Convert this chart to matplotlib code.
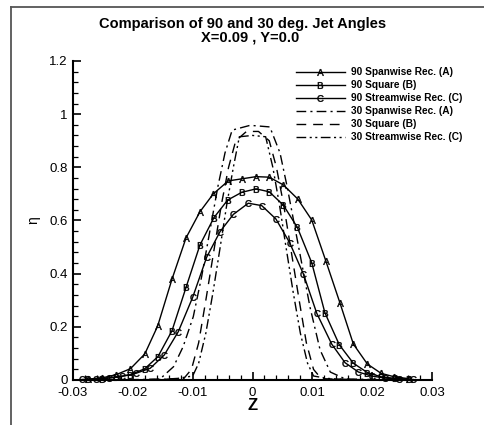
import matplotlib
matplotlib.use("Agg")
import matplotlib.pyplot as plt
from matplotlib.lines import Line2D
from matplotlib.ticker import MultipleLocator, FuncFormatter

plt.rcParams['font.family'] = ['Liberation Sans', 'DejaVu Sans']
plt.rcParams['mathtext.fontset'] = 'custom'
plt.rcParams['mathtext.rm'] = 'Liberation Sans'

# 90 deg, Spanwise Rec. (A)
z_90a = [-0.0275, -0.0251, -0.0228, -0.0204, -0.0180, -0.01585, -0.01346, -0.0111, -0.00878,
         -0.00656, -0.00405, -0.0017, 0.00059, 0.0028, 0.00515, 0.00756, 0.0099, 0.01224,
         0.01463, 0.01686, 0.0192, 0.0215, 0.0237, 0.0261]
eta_90a = [0.003, 0.008, 0.02, 0.0425, 0.098, 0.203, 0.379, 0.535, 0.633, 0.700, 0.749, 0.757,
           0.765, 0.763, 0.734, 0.681, 0.602, 0.449, 0.289, 0.135, 0.060, 0.025, 0.012, 0.005]
# 90 deg, Square (B)
z_90b = [-0.0275, -0.0251, -0.0228, -0.0204, -0.0180, -0.0158, -0.01346, -0.0111, -0.00878,
         -0.00644, -0.00415, -0.0018, 0.00059, 0.0028, 0.00515, 0.0075, 0.0099, 0.0121,
         0.01452, 0.01686, 0.0192, 0.0215, 0.0238, 0.0261]
eta_90b = [0.002, 0.005, 0.010, 0.020, 0.0425, 0.088, 0.185, 0.349, 0.508, 0.611, 0.677, 0.706,
           0.719, 0.708, 0.658, 0.574, 0.441, 0.253, 0.132, 0.063, 0.028, 0.012, 0.006, 0.003]
# 90 deg, Streamwise Rec. (C)
z_90c = [-0.0285, -0.0262, -0.0240, -0.0218, -0.0195, -0.0171, -0.01475, -0.0124, -0.0100,
         -0.00766, -0.00543, -0.0032, -0.0007, 0.00154, 0.0039, 0.0062, 0.0085, 0.01074,
         0.01324, 0.01547, 0.0177, 0.0199, 0.0222, 0.0245, 0.0268]
eta_90c = [0.002, 0.004, 0.008, 0.014, 0.025, 0.044, 0.094, 0.182, 0.311, 0.462, 0.558, 0.623,
           0.665, 0.656, 0.606, 0.517, 0.399, 0.251, 0.135, 0.065, 0.030, 0.015, 0.007, 0.004, 0.002]
# 30 deg, Spanwise Rec. (A)
z_30a = [-0.024, -0.0155, -0.0132, -0.0116, -0.0099, -0.0085, -0.0058, -0.0046, -0.0034,
         -0.0004, 0.0029, 0.0046, 0.0058, 0.0079, 0.0096, 0.0113, 0.013, 0.0155, 0.024]
eta_30a = [0.0, 0.003, 0.05, 0.125, 0.238, 0.389, 0.726, 0.854, 0.94, 0.958, 0.952, 0.854,
           0.726, 0.478, 0.275, 0.113, 0.03, 0.004, 0.0]
# 30 deg, Square (B)
z_30b = [-0.02, -0.0115, -0.0102, -0.009, -0.0078, -0.0065, -0.0052, -0.004, -0.0028, -0.001,
         0.001, 0.0028, 0.004, 0.0052, 0.0065, 0.0078, 0.009, 0.0102, 0.0115, 0.02]
eta_30b = [0.0, 0.005, 0.04, 0.14, 0.30, 0.48, 0.66, 0.80, 0.90, 0.935, 0.935, 0.90, 0.80,
           0.66, 0.48, 0.30, 0.14, 0.04, 0.005, 0.0]
# 30 deg, Streamwise Rec. (C)
z_30c = [-0.022, -0.0155, -0.0125, -0.0100, -0.0090, -0.0078, -0.0066, -0.0054, -0.0043,
         -0.0032, -0.0022, 0.0, 0.0022, 0.0034, 0.0045, 0.0056, 0.0068, 0.0080, 0.0092, 0.0102,
         0.0125, 0.0155, 0.022]
eta_30c = [0.0, 0.002, 0.006, 0.015, 0.063, 0.176, 0.33, 0.50, 0.66, 0.80, 0.915, 0.92, 0.915,
           0.80, 0.66, 0.50, 0.33, 0.176, 0.063, 0.015, 0.006, 0.002, 0.0]

labels = ["90 Spanwise Rec. (A)", "90 Square (B)", "90 Streamwise Rec. (C)",
          "30 Spanwise Rec. (A)", "30 Square (B)", "30 Streamwise Rec. (C)"]

W, H = 485, 425
fig = plt.figure(figsize=(W / 100, H / 100), dpi=100)
ax = fig.add_axes([73 / W, 1 - 380 / H, (432 - 73) / W, (380 - 61) / H])

lw = 1.0
dashdot = (0, (7, 3, 1.5, 3))
dashed = (0, (7, 5))
dashdotdot = (0, (7, 2.5, 1.5, 2.5, 1.5, 2.5))
ms = 4.8

series = [
    (z_90a, eta_90a, '-', r'$\mathrm{A}$'),
    (z_90b, eta_90b, '-', r'$\mathrm{B}$'),
    (z_90c, eta_90c, '-', r'$\mathrm{C}$'),
    (z_30a, eta_30a, dashdot, None),
    (z_30b, eta_30b, dashed, None),
    (z_30c, eta_30c, dashdotdot, None),
]
for z, e, ls, mk in series:
    ax.plot(z, e, color='black', linestyle=ls, linewidth=lw, marker=mk,
            markersize=ms, markeredgewidth=0.3, clip_on=False)

ax.set_xlim(-0.03, 0.03)
ax.set_ylim(0, 1.2)
ax.xaxis.set_major_locator(MultipleLocator(0.01))
ax.xaxis.set_minor_locator(MultipleLocator(0.002))
ax.yaxis.set_major_locator(MultipleLocator(0.2))
ax.yaxis.set_minor_locator(MultipleLocator(0.04))
ax.xaxis.set_major_formatter(FuncFormatter(
    lambda v, p: '0' if abs(v) < 1e-9 else ('%g' % round(v, 3))))
ax.yaxis.set_major_formatter(FuncFormatter(
    lambda v, p: '0' if abs(v) < 1e-9 else ('%g' % round(v, 2))))

for s in ['top', 'right']:
    ax.spines[s].set_visible(False)
for s in ['left', 'bottom']:
    ax.spines[s].set_linewidth(1.5)
ax.tick_params(which='major', direction='in', length=6, width=1.2, labelsize=9.5)
ax.tick_params(axis='x', which='major', pad=5)
ax.tick_params(axis='y', which='major', pad=4)
ax.tick_params(which='minor', direction='in', length=3.5, width=0.9)

ax.set_xlabel('Z', fontsize=12, fontweight='bold', labelpad=-1)
ax.set_ylabel('η', fontsize=10, labelpad=6)

fig.text(243 / W, 1 - 24 / H, 'Comparison of 90 and 30 deg. Jet Angles', ha='center',
         va='center', fontsize=10.5, fontweight='bold')
fig.text(250 / W, 1 - 38 / H, 'X=0.09 , Y=0.0', ha='center', va='center',
         fontsize=10.5, fontweight='bold')

# legend drawn manually
rows = [72, 85, 98, 111, 124, 137]
for (z, e, ls, mk), lab, ry in zip(series, labels, rows):
    yf = 1 - ry / H
    ln = Line2D([296 / W, 345 / W], [yf, yf], transform=fig.transFigure, color='black',
                linestyle=ls, linewidth=lw)
    fig.add_artist(ln)
    if mk:
        fig.add_artist(Line2D([320 / W], [yf], transform=fig.transFigure, color='black',
                              marker=mk, markersize=ms, markeredgewidth=0.3, linestyle='none'))
    fig.text(351 / W, yf, lab, ha='left', va='center', fontsize=7.3, fontweight='bold')

# outer frame
fc = '#555555'
fig.add_artist(Line2D([11 / W, 11 / W], [0, 1 - 7 / H], transform=fig.transFigure,
                      color=fc, linewidth=1.3))
fig.add_artist(Line2D([11 / W, 1], [1 - 7 / H, 1 - 7 / H], transform=fig.transFigure,
                      color=fc, linewidth=1.3))

fig.savefig('out.png', dpi=100)
